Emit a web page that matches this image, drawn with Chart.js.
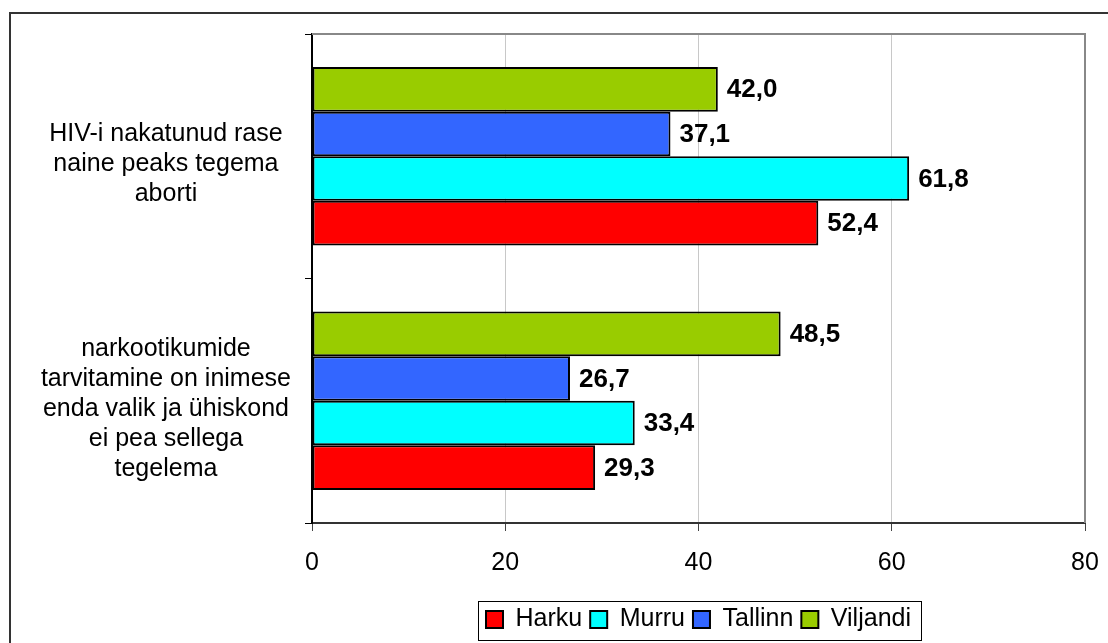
<!DOCTYPE html>
<html>
<head>
<meta charset="utf-8">
<script src="https://cdn.jsdelivr.net/npm/chart.js@4"></script>
<style>
  body { margin: 0; background: #fff; }
  #wrap { width: 1108px; height: 643px; }
</style>
</head>
<body>
<div id="wrap"><canvas id="myBarChart" width="1108" height="643"></canvas></div>
<script>
// DATA
const categories = [
  ['HIV-i nakatunud rase', 'naine peaks tegema', 'aborti'],
  ['narkootikumide', 'tarvitamine on inimese', 'enda valik ja ühiskond', 'ei pea sellega', 'tegelema']
];
const harku = [52.4, 29.3];
const murru = [61.8, 33.4];
const tallinn = [37.1, 26.7];
const viljandi = [42.0, 48.5];
const xTicks = [0, 20, 40, 60, 80];

const FONT = 'Liberation Sans, Arial, sans-serif';
Chart.defaults.font.family = FONT;
Chart.defaults.color = '#000';

// OUTER FRAME + PLOT FRAME + VALUE LABELS
const framePlugin = {
  id: 'frames',
  beforeDraw(chart) {
    const ctx = chart.ctx;
    ctx.save();
    ctx.fillStyle = '#fff';
    ctx.fillRect(0, 0, chart.width, chart.height);
    ctx.strokeStyle = '#333';
    ctx.lineWidth = 2;
    ctx.strokeRect(10, 13, 1200, 700);
    ctx.restore();
  },
  beforeDatasetsDraw(chart) {
    const {ctx, chartArea: a} = chart;
    ctx.save();
    ctx.strokeStyle = '#888';
    ctx.lineWidth = 2;
    ctx.beginPath();
    ctx.moveTo(a.left, a.top);
    ctx.lineTo(a.right, a.top);
    ctx.lineTo(a.right, a.bottom);
    ctx.stroke();
    ctx.restore();
  },
  afterDatasetsDraw(chart) {
    const ctx = chart.ctx;
    ctx.save();
    ctx.font = 'bold 26px ' + FONT;
    ctx.fillStyle = '#000';
    ctx.textBaseline = 'middle';
    ctx.textAlign = 'left';
    chart.data.datasets.forEach((ds, i) => {
      chart.getDatasetMeta(i).data.forEach((bar, j) => {
        ctx.fillText(ds.data[j].toFixed(1).replace('.', ','), bar.x + 9, bar.y + 1);
      });
    });
    ctx.restore();
  },
  afterDraw(chart) {
    const boxes = chart.legend.legendHitBoxes;
    if (!boxes || !boxes.length) return;
    const ctx = chart.ctx;
    const first = boxes[0];
    const last = boxes[boxes.length - 1];
    const cy = first.top + first.height / 2;
    ctx.save();
    ctx.strokeStyle = '#000';
    ctx.lineWidth = 1;
    ctx.strokeRect(Math.round(first.left - 8) + 0.5, Math.round(cy - 19) + 0.5,
      Math.round(last.left + last.width - first.left + 18), 39);
    ctx.restore();
  }
};

const barChart = document.getElementById('myBarChart');
new Chart(barChart, {
  type: 'bar',
  data: {
    labels: categories,
    datasets: [
      {label: 'Viljandi', data: viljandi, backgroundColor: '#99CC00'},
      {label: 'Tallinn', data: tallinn, backgroundColor: '#3366FF'},
      {label: 'Murru', data: murru, backgroundColor: '#00FFFF'},
      {label: 'Harku', data: harku, backgroundColor: '#FF0000'}
    ].map(d => Object.assign(d, {borderColor: '#000', borderWidth: 2, borderSkipped: false}))
  },
  options: {
    indexAxis: 'y',
    responsive: false,
    animation: false,
    layout: {padding: {top: 34, right: 23, bottom: 1, left: 0}},
    datasets: {bar: {categoryPercentage: 0.73, barPercentage: 1}},
    scales: {
      x: {
        min: 0,
        max: 80,
        afterBuildTicks: scale => { scale.ticks = xTicks.map(v => ({value: v})); },
        afterFit: scale => { scale.height = 76; scale.paddingLeft = 0; scale.paddingRight = 0; },
        grid: {color: '#c8c8c8', tickColor: '#444', tickLength: 8, lineWidth: 1},
        border: {color: '#333', width: 2},
        ticks: {font: {size: 25}, padding: 17, color: '#000'}
      },
      y: {
        afterFit: scale => { scale.width = 312; scale.paddingTop = 0; scale.paddingBottom = 0; },
        grid: {drawOnChartArea: false, offset: true, tickLength: 7, color: '#000'},
        border: {color: '#000', width: 2},
        ticks: {font: {size: 25, lineHeight: 1.2}, crossAlign: 'center', padding: 14, labelOffset: 8, color: '#000'}
      }
    },
    plugins: {
      tooltip: {enabled: false},
      legend: {
        position: 'bottom',
        fullSize: false,
        reverse: true,
        labels: {boxWidth: 17, boxHeight: 17, padding: 8, font: {size: 25}, color: '#000'}
      }
    }
  },
  plugins: [framePlugin]
});
</script>
</body>
</html>
